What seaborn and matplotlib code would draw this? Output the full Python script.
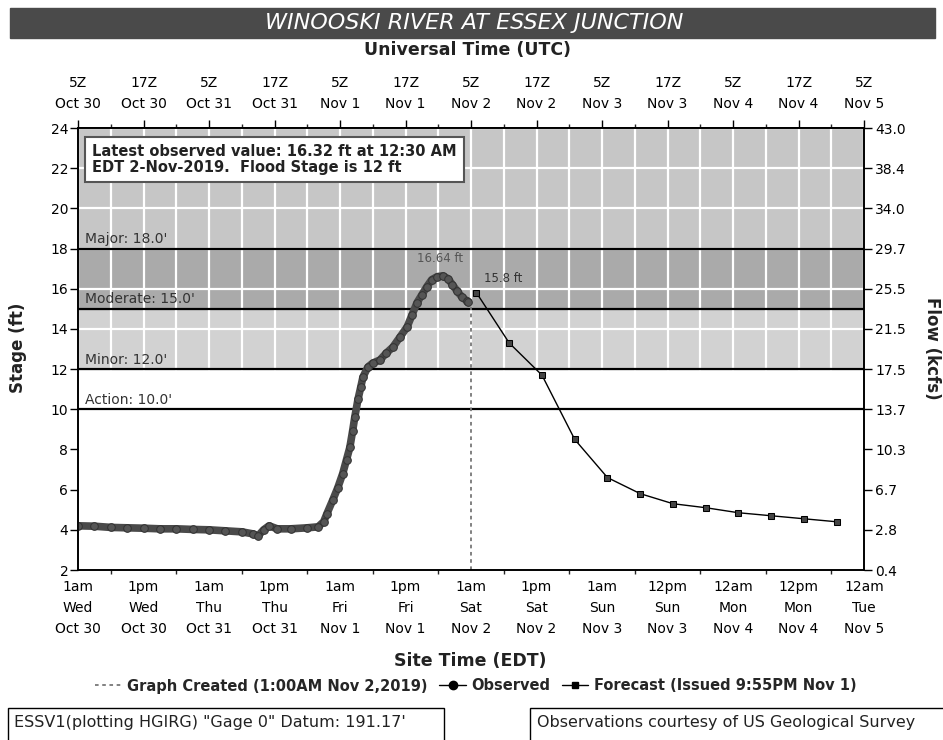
import matplotlib.pyplot as plt
import seaborn as sns
from matplotlib.lines import Line2D
from matplotlib.patches import Rectangle

# hours since 5Z Oct 30 (1am EDT Wed Oct 30)
obs_hours = [0, 3, 6, 9, 12, 15, 18, 21, 24, 27, 30, 32, 33, 34, 35, 36.5, 39, 42,
             44, 45, 45.6, 46.7, 47.6, 48.5, 49.2, 49.8, 50.3, 50.7, 51.3, 51.8,
             52.2, 53.1, 54, 55.3, 56.5, 57.7, 59, 60.3, 61.2, 62.1, 63, 63.9,
             64.8, 65.8, 66.8, 67.8, 68.6, 69.4, 70.3, 71.2, 71.5]
obs_stage = [4.2, 4.18, 4.12, 4.1, 4.08, 4.05, 4.05, 4.02, 4.0, 3.95, 3.9, 3.8,
             3.7, 4.0, 4.2, 4.05, 4.05, 4.1, 4.15, 4.4, 4.8, 5.5, 6.1, 6.8, 7.5,
             8.1, 8.9, 9.6, 10.5, 11.1, 11.6, 12.1, 12.3, 12.45, 12.8, 13.1, 13.6,
             14.1, 14.7, 15.3, 15.7, 16.1, 16.45, 16.6, 16.64, 16.5, 16.2, 15.9,
             15.6, 15.4, 15.32]

fcst_hours = [73, 79, 85, 91, 97, 103, 109, 115, 121, 127, 133, 139]
fcst_stage = [15.8, 13.3, 11.7, 8.5, 6.6, 5.8, 5.3, 5.1, 4.85, 4.7, 4.55, 4.4]

created_hour = 72

flood_levels = [10.0, 12.0, 15.0, 18.0]
flood_names = ["Action", "Minor", "Moderate", "Major"]

stage_ticks = [2, 4, 6, 8, 10, 12, 14, 16, 18, 20, 22, 24]
flow_labels = ["0.4", "2.8", "6.7", "10.3", "13.7", "17.5", "21.5", "25.5",
               "29.7", "34.0", "38.4", "43.0"]

time_ticks = [0, 12, 24, 36, 48, 60, 72, 84, 96, 108, 120, 132, 144]
utc_labels = ["5Z\nOct 30", "17Z\nOct 30", "5Z\nOct 31", "17Z\nOct 31",
              "5Z\nNov 1", "17Z\nNov 1", "5Z\nNov 2", "17Z\nNov 2",
              "5Z\nNov 3", "17Z\nNov 3", "5Z\nNov 4", "17Z\nNov 4", "5Z\nNov 5"]
edt_labels = ["1am\nWed\nOct 30", "1pm\nWed\nOct 30", "1am\nThu\nOct 31",
              "1pm\nThu\nOct 31", "1am\nFri\nNov 1", "1pm\nFri\nNov 1",
              "1am\nSat\nNov 2", "1pm\nSat\nNov 2", "1am\nSun\nNov 3",
              "12pm\nSun\nNov 3", "12am\nMon\nNov 4", "12pm\nMon\nNov 4",
              "12am\nTue\nNov 5"]

sns.set_theme(style="white")
plt.rcParams['font.family'] = ['DejaVu Sans']

W, H = 943, 740
fig = plt.figure(figsize=(W / 100, H / 100), dpi=100)
ax = fig.add_axes([78 / W, 1 - 570 / H, (864 - 78) / W, (570 - 128) / H])

# flood category bands
ax.axhspan(12, 15, color="#d2d2d2", zorder=0)
ax.axhspan(15, 18, color="#aaaaaa", zorder=0)
ax.axhspan(18, 24, color="#c6c6c6", zorder=0)

ax.set_xlim(0, 144)
ax.set_ylim(2, 24)
ax.set_xticks(time_ticks)
ax.set_xticks(range(0, 145, 6), minor=True)
ax.set_yticks(stage_ticks)
ax.set_axisbelow(True)
ax.grid(True, which="both", axis="x", color="white", lw=1.6)
ax.grid(True, which="major", axis="y", color="white", lw=1.6)

for level, name in zip(flood_levels, flood_names):
    ax.axhline(level, color="black", lw=1.6, zorder=1.5)
    ax.text(1.2, level + 0.12, f"{name}: {level:.1f}'", fontsize=10,
            color="#333333", va="bottom", ha="left")

# graph created marker line
ax.axvline(created_hour, ymax=(15.6 - 2) / 22, color="#777777",
           ls=(0, (2, 2)), lw=1.3, zorder=2.5)

# observed and forecast
sns.lineplot(x=obs_hours, y=obs_stage, ax=ax, color="#4a4a4a", lw=5.5,
             marker="o", markersize=5.5, markerfacecolor="#555555",
             markeredgecolor="#333333", zorder=3)
sns.lineplot(x=fcst_hours, y=fcst_stage, ax=ax, color="black", lw=1,
             marker="s", markersize=5, markerfacecolor="#444444",
             markeredgecolor="black", zorder=3)

ax.text(66.3, 17.5, "16.64 ft", fontsize=8.5, color="#555555",
        ha="center", va="center")
ax.text(74.3, 16.5, "15.8 ft", fontsize=8.5, color="#333333",
        ha="left", va="center")

ax.set_xticklabels(edt_labels, linespacing=1.65)
ax.set_xlabel("")
ax.set_ylabel("")
ax.tick_params(axis="both", which="major", direction="out", length=6,
               width=1, labelsize=10, colors="black", pad=1)
ax.tick_params(axis="x", which="minor", direction="out", length=3, width=1,
               bottom=True)
for s in ax.spines.values():
    s.set_color("black")
    s.set_linewidth(1.2)

# right axis: flow
ax2 = ax.twinx()
ax2.set_ylim(2, 24)
ax2.set_yticks(stage_ticks)
ax2.set_yticklabels(flow_labels)
ax2.tick_params(axis="y", direction="out", length=6, width=1, labelsize=10,
                colors="black", pad=2)
for s in ax2.spines.values():
    s.set_color("black")
    s.set_linewidth(1.2)

# top axis: UTC
top = ax.secondary_xaxis("top")
top.set_xticks(time_ticks)
top.set_xticklabels(utc_labels, linespacing=1.65)
top.set_xticks(range(0, 145, 6), minor=True)
top.tick_params(axis="x", which="major", direction="out", length=6, width=1,
                labelsize=10, colors="black", pad=6)
top.tick_params(axis="x", which="minor", direction="out", length=3, width=1)
top.spines["top"].set_color("black")

# latest value box
fig.text(92 / W, 1 - 144 / H,
         "Latest observed value: 16.32 ft at 12:30 AM\nEDT 2-Nov-2019.  Flood Stage is 12 ft",
         fontsize=10.5, fontweight="bold", color="#222222", ha="left", va="top",
         linespacing=1.1,
         bbox=dict(boxstyle="square,pad=0.5", fc="white", ec="#555555", lw=1.5))

# title bar
fig.patches.append(Rectangle((10 / W, 1 - 38 / H), 925 / W, 30 / H,
                             transform=fig.transFigure, color="#4a4a4a"))
fig.text(474 / W, 1 - 23 / H, "WINOOSKI RIVER AT ESSEX JUNCTION", color="white",
         fontsize=16, style="italic", ha="center", va="center")
fig.text(467 / W, 1 - 50 / H, "Universal Time (UTC)", fontsize=12.5,
         fontweight="bold", ha="center", va="center", color="#222222")
fig.text(470 / W, 1 - 661 / H, "Site Time (EDT)", fontsize=12.5,
         fontweight="bold", ha="center", va="center", color="#222222")
fig.text(18 / W, 1 - 348 / H, "Stage (ft)", fontsize=12, fontweight="bold",
         rotation=90, ha="center", va="center", color="#222222")
fig.text(932 / W, 1 - 348 / H, "Flow (kcfs)", fontsize=12, fontweight="bold",
         rotation=270, ha="center", va="center", color="#222222")

# legend
handles = [
    Line2D([], [], color="#777777", ls=(0, (2, 2)), lw=1.3),
    Line2D([], [], color="black", lw=1, marker="o", markersize=6),
    Line2D([], [], color="black", lw=1, marker="s", markersize=4),
]
labels = ["Graph Created (1:00AM Nov 2,2019)", "Observed",
          "Forecast (Issued 9:55PM Nov 1)"]
fig.legend(handles, labels, loc="center", bbox_to_anchor=(476 / W, 1 - 686 / H),
           ncol=3, frameon=False, handlelength=1.8, handletextpad=0.4,
           columnspacing=0.8, prop={"weight": "bold", "size": 10.5})

# footer boxes
fig.patches.append(Rectangle((8 / W, -0.02), 436 / W, 32 / H + 0.02,
                             transform=fig.transFigure, fill=False,
                             ec="black", lw=1))
fig.patches.append(Rectangle((530 / W, -0.02), 420 / W, 32 / H + 0.02,
                             transform=fig.transFigure, fill=False,
                             ec="black", lw=1))
fig.text(14 / W, 1 - 723 / H, "ESSV1(plotting HGIRG) \"Gage 0\" Datum: 191.17'",
         fontsize=11.5, ha="left", va="center", color="#222222")
fig.text(537 / W, 1 - 723 / H, "Observations courtesy of US Geological Survey",
         fontsize=11.5, ha="left", va="center", color="#222222")

plt.savefig("out.png", dpi=100)
